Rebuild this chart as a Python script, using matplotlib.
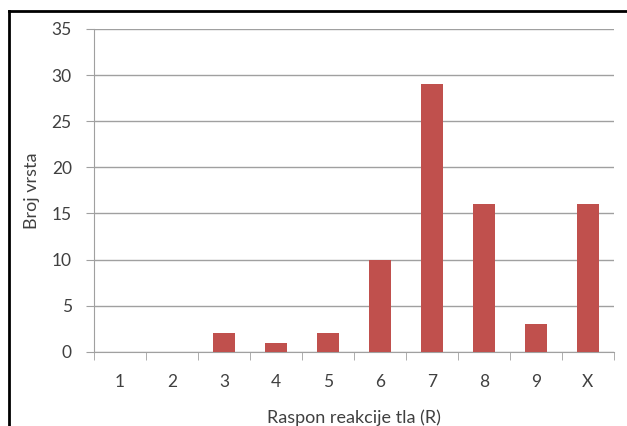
import matplotlib.pyplot as plt
from matplotlib.lines import Line2D

kategorije = ['1', '2', '3', '4', '5', '6', '7', '8', '9', 'X']
broj_vrsta = [0, 0, 2, 1, 2, 10, 29, 16, 3, 16]
y_ticks = [0, 5, 10, 15, 20, 25, 30, 35]

plt.rcParams['font.family'] = ['Lato', 'DejaVu Sans']

fig = plt.figure(figsize=(6.27, 4.26), dpi=100)
ax = fig.add_axes([0.150, 0.174, 0.829, 0.758])

x = list(range(len(kategorije)))
ax.bar(x, broj_vrsta, width=0.42, color='#C0504D', zorder=3)

ax.set_xlim(-0.5, len(kategorije) - 0.5)
ax.set_ylim(0, 35)
ax.set_yticks(y_ticks)
ax.set_yticklabels([str(v) for v in y_ticks], fontsize=12.5, color='#404040')
ax.yaxis.grid(True, color='#A0A0A0', linewidth=1, zorder=0)

# kategorije na sredini, crtice na granicama
ax.set_xticks(x)
ax.set_xticklabels(kategorije, fontsize=12.5, color='#404040')
ax.tick_params(axis='x', length=0, pad=16)
ax.set_xticks([i - 0.5 for i in range(len(kategorije) + 1)], minor=True)
ax.tick_params(axis='x', which='minor', length=6, color='#A0A0A0', direction='out')
ax.tick_params(axis='y', length=6, color='#A0A0A0', direction='out', pad=10)

for s in ['top', 'right']:
    ax.spines[s].set_visible(False)
ax.spines['left'].set_color('#A0A0A0')
ax.spines['bottom'].set_color('#A0A0A0')

ax.set_xlabel('Raspon reakcije tla (R)', fontsize=13, color='#404040', labelpad=14)
ax.set_ylabel('Broj vrsta', fontsize=13, color='#404040', labelpad=8)

# okvir grafikona
fig.add_artist(Line2D([0.014, 1.0], [0.974, 0.974], color='black', linewidth=2, transform=fig.transFigure))
fig.add_artist(Line2D([0.014, 0.014], [0.0, 0.974], color='black', linewidth=2, transform=fig.transFigure))

fig.savefig('out.png', dpi=100)
